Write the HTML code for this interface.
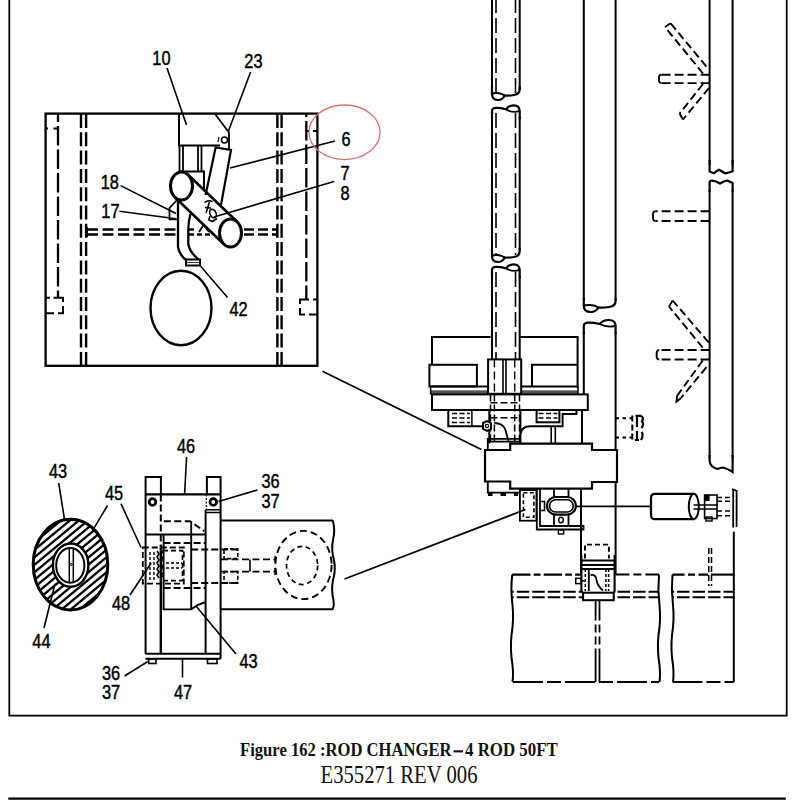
<!DOCTYPE html>
<html><head><meta charset="utf-8">
<style>
html,body{margin:0;padding:0;background:#fff;overflow:hidden;}
svg{display:block;}
.n{font-family:"Liberation Sans",sans-serif;fill:#000;stroke:#000;stroke-width:0.45px;}
.cap{font-family:"Liberation Serif",serif;fill:#111;stroke:none;}
</style></head><body>
<svg width="800" height="800" viewBox="0 0 800 800">
<g fill="none" stroke="#000" stroke-width="2" stroke-linecap="butt">
<path d="M9.3,0 V715.7 H786.7 V0" stroke-width="1.8"/>
<line x1="8.3" y1="798.7" x2="785.8" y2="798.7" stroke-width="2.2"/>
<rect x="45.6" y="113.6" width="271.8" height="252.2" stroke-width="2.3"/>
<line x1="58" y1="114" x2="58" y2="298" stroke-dasharray="19.5 4" stroke-dashoffset="11.6" stroke-width="2.3"/>
<path d="M46,128.6 H48 M53.5,128.6 H58"/>
<path d="M46,297.8 H50 M53.5,297.8 H63 V302 M63,306 V313.2 H58 M54,313.2 H46"/>
<line x1="81" y1="114" x2="81" y2="366" stroke-dasharray="14 4.3" stroke-width="2.4"/>
<line x1="86.1" y1="114" x2="86.1" y2="366" stroke-dasharray="14 4.3" stroke-width="2.4"/>
<line x1="277.4" y1="114" x2="277.4" y2="366" stroke-dasharray="14 4.3" stroke-width="2.4"/>
<line x1="281.6" y1="114" x2="281.6" y2="366" stroke-dasharray="14 4.3" stroke-width="2.4"/>
<line x1="306.3" y1="114" x2="306.3" y2="299.5" stroke-dasharray="19.5 4" stroke-dashoffset="16.5" stroke-width="2.3"/>
<path d="M306.6,131 H309 M313,131 H317"/>
<path d="M317,299.5 H313 M309,299.5 H300 V304 M300,308 V314.5 H305 M309,314.5 H317"/>
<path d="M87,229.4 H177 M87,234.4 H177" stroke-dasharray="11 4.5" stroke-width="2.5"/>
<path d="M244,229.6 H277 M244,234.6 H277" stroke-dasharray="10 4" stroke-width="2.5"/>
<path d="M189,229.6 H194 M189,234.6 H214" stroke-width="2.5" stroke-dasharray="5 3"/>
<line x1="277" y1="227" x2="277" y2="237"/>
<line x1="87" y1="227" x2="87" y2="237"/>
<path d="M179,114 V145.4 H220"/>
<path d="M215,114 L229,132.5 V150" stroke-width="1.8"/>
<circle cx="224.5" cy="140" r="3" stroke-width="1.5"/>
<path d="M219,137 L218,142" stroke-width="1.2"/>
<path d="M179.5,146 V172 M183,146 V171 M198,146 V171 M201.5,146 V171" stroke-width="1.8"/>
<path d="M179,171.5 H204 V191" stroke-width="2"/>
<path d="M205.6,195 L215.6,147.5 L231,150 L221,205" stroke-width="2.2"/>
<path d="M188.1,174.8 L237.1,221.8" stroke-width="2.6"/>
<path d="M174.9,197.2 L223.9,244.2" stroke-width="2.6"/>
<ellipse cx="181.5" cy="186" rx="11" ry="14" stroke-width="3" fill="#fff"/>
<ellipse cx="230.5" cy="233" rx="11" ry="14" stroke-width="3" fill="#fff"/>
<path d="M204.5,202.5 Q208,199.5 212.5,201.5 M209.5,202 L206,213 M205,207.5 L211,208" stroke-width="1.6"/>
<ellipse cx="213" cy="213.5" rx="3" ry="4.5" transform="rotate(-25 213 213.5)" stroke-width="1.6"/>
<path d="M208,219.5 L212.5,221.5 L217,218.5 M210,216 L209,219" stroke-width="1.6"/>
<path d="M199,232 L203.5,225 L209,232" stroke-width="1.7"/>
<path d="M178,201 V247 Q179.5,255 186,260" stroke-width="2.3"/>
<path d="M190.5,214 Q188,222 188.3,232 V244 Q189.5,252 198.5,259.5" stroke-width="2.3"/>
<rect x="186" y="259.5" width="14" height="6" stroke-width="2"/>
<line x1="187" y1="262.5" x2="199" y2="262.5" stroke-width="0.8"/>
<path d="M177,200 L169.5,208 V219.4 H178" stroke-width="1.8"/>
<ellipse cx="181" cy="308" rx="30.5" ry="37.2" stroke-width="2.4"/>
<g stroke-width="1.6">
<line x1="167" y1="68" x2="186.5" y2="125"/>
<line x1="250.6" y1="72" x2="228.5" y2="131"/>
<line x1="335" y1="141" x2="230" y2="168"/>
<line x1="334" y1="181.6" x2="214" y2="217"/>
<line x1="120.6" y1="185.6" x2="176" y2="213.5"/>
<line x1="119.4" y1="211.2" x2="176" y2="218.7"/>
<line x1="200" y1="265.5" x2="227.5" y2="297.5"/>
</g>
<ellipse cx="344.5" cy="132.3" rx="35.5" ry="27.3" stroke="#e07070" stroke-width="1.3"/>
<line x1="322.5" y1="371.3" x2="481.3" y2="449.5" stroke-width="1.8"/>
<path d="M492,-2 V90 M519.7,-2 V90" />
<path d="M492,86 V94 Q492,100 498.094,100 Q502.526,100 504.7,95.5 Q509.17400000000004,95.8 514.1600000000001,95 Q519.7,94 519.7,89 V86" stroke-width="2.2"/><path d="M492,94 Q493.385,92.7 497.54,93 Q501.97200000000004,93.4 504.7,95.5" stroke-width="1.87"/>
<path d="M492,119.3 V111.3 Q492,107.89999999999999 496.15500000000003,107.89999999999999 Q500.86400000000003,107.89999999999999 505.9,109.3 Q508.62,105.3 513.606,105.3 Q519.7,105.3 519.7,111.3 V119.3" stroke-width="2.2"/><path d="M505.9,109.3 Q509.728,111.89999999999999 515.268,111.89999999999999 Q518.7,111.89999999999999 519.7,110.3" stroke-width="1.87"/>
<path d="M492,117 V250 M519.7,117 V250" />
<path d="M492,248 V256 Q492,262 498.094,262 Q502.526,262 504.7,257.5 Q509.17400000000004,257.8 514.1600000000001,257 Q519.7,256 519.7,251 V248" stroke-width="2.2"/><path d="M492,256 Q493.385,254.7 497.54,255 Q501.97200000000004,255.4 504.7,257.5" stroke-width="1.87"/>
<path d="M492,278.3 V270.3 Q492,266.90000000000003 496.15500000000003,266.90000000000003 Q500.86400000000003,266.90000000000003 505.9,268.3 Q508.62,264.3 513.606,264.3 Q519.7,264.3 519.7,270.3 V278.3" stroke-width="2.2"/><path d="M505.9,268.3 Q509.728,270.90000000000003 515.268,270.90000000000003 Q518.7,270.90000000000003 519.7,269.3" stroke-width="1.87"/>
<path d="M492,276 V360 M519.7,276 V360" />
<path d="M496,-2 V93 M515.5,-2 V93 M496,113 V255 M515.5,113 V255 M496,272 V360 M515.5,272 V360" stroke-width="1.6" stroke-dasharray="15 5"/>
<path d="M583.8,-2 V300 M615.6,-2 V300" />
<path d="M583.8,298 V306 Q583.8,312 590.7959999999999,312 Q595.884,312 598.4,307.5 Q603.516,307.8 609.24,307 Q615.6,306 615.6,301 V298" stroke-width="2.2"/><path d="M583.8,306 Q585.39,304.7 590.16,305 Q595.2479999999999,305.4 598.4,307.5" stroke-width="1.87"/>
<path d="M583.8,334 V326 Q583.8,322.6 588.5699999999999,322.6 Q593.976,322.6 599.7,324 Q602.88,320 608.604,320 Q615.6,320 615.6,326 V334" stroke-width="2.2"/><path d="M599.7,324 Q604.152,326.6 610.5120000000001,326.6 Q614.6,326.6 615.6,325" stroke-width="1.87"/>
<path d="M583.8,332 V394 M615.6,332 V574" />
<path d="M709.6,-2 V165 M732.6,-2 V165" />
<path d="M709.6,160 V171.5 L714,173.2 Q716.5,171 719,169.8 Q722,171.5 725,173.3 Q729,172.5 732.6,171.2 V160" stroke-width="2.2"/>
<path d="M709.6,192 V182 Q710,180.5 712,180.5 Q716,181 720,183.5 Q724,181 727,180.5 L732.6,183 V192" stroke-width="2.2"/>
<path d="M709.6,190 V458 M732.6,190 V458" />
<path d="M709.6,455 V461 Q710,467 717.5,469 Q720,468 722.5,467.5 Q726,468 732.6,472 V455" stroke-width="2.2"/>
<path d="M709.6,74.8 H661.5 M709.6,83.1 H661.5" stroke-dasharray="9 4" stroke-width="1.9"/><path d="M661.5,74.8 Q658.5,74.8 659.0,78.94999999999999 Q658.5,83.1 661.5,83.1" stroke-width="1.9"/>
<path d="M709.6,211.3 H655.5 M709.6,221 H655.5" stroke-dasharray="9 4" stroke-width="1.9"/><path d="M655.5,211.3 Q652.5,211.3 653.0,216.15 Q652.5,221 655.5,221" stroke-width="1.9"/>
<path d="M709.6,350 H659.2 M709.6,359.5 H659.2" stroke-dasharray="9 4" stroke-width="1.9"/><path d="M659.2,350 Q656.2,350 656.7,354.75 Q656.2,359.5 659.2,359.5" stroke-width="1.9"/>
<line x1="706.4" y1="66.6" x2="670.6" y2="23.3" stroke-dasharray="8 4" stroke-width="1.9"/>
<line x1="703" y1="73.5" x2="665" y2="27" stroke-dasharray="8 4" stroke-width="1.9"/>
<path d="M665,27 L670.6,23.3" stroke-width="1.9"/>
<line x1="703" y1="84" x2="679.6" y2="113.5" stroke-dasharray="8 4" stroke-width="1.9"/>
<line x1="709" y1="88" x2="683" y2="119.5" stroke-dasharray="8 4" stroke-width="1.9"/>
<path d="M679.6,113.5 L683,119.5" stroke-width="1.9"/>
<line x1="708.7" y1="342.5" x2="672.7" y2="300.5" stroke-dasharray="8 4" stroke-width="1.9"/>
<line x1="702.7" y1="347.7" x2="669" y2="306.5" stroke-dasharray="8 4" stroke-width="1.9"/>
<path d="M669,306.5 L672.7,300.5" stroke-width="1.9"/>
<line x1="702.7" y1="360.5" x2="677" y2="396" stroke-dasharray="8 4" stroke-width="1.9"/>
<line x1="706.5" y1="367.2" x2="681" y2="398" stroke-dasharray="8 4" stroke-width="1.9"/>
<path d="M677,396 L676.5,401.7 L681,398" stroke-width="1.9"/>

<path d="M432,364.8 V337.1 H490.6 M520,337.1 H577.6 V388"/>
<rect x="429.4" y="364.8" width="47.5" height="21.6"/>
<path d="M532,386.4 V364.8 H577.6"/>
<path d="M430.6,386.4 H488 M521,386.4 H578"/>
<rect x="431" y="390.3" width="57" height="3.6" fill="#555" stroke="none"/>
<rect x="521" y="390.3" width="57" height="3.6" fill="#555" stroke="none"/>
<path d="M430.6,386.4 V394.4 M578,386.4 V394.4" stroke-width="1.5"/>
<rect x="488.1" y="359.4" width="33.1" height="34.4" fill="#fff"/>
<path d="M503,359.4 V393.8 M506,359.4 V393.8" stroke-width="1.6"/>
<path d="M494.4,359.4 V393.8 M514.7,359.4 V393.8" stroke-width="1.4" stroke-dasharray="8 4"/>
<rect x="432" y="394.4" width="155.8" height="15.6"/>
<path d="M490.5,394.4 V443 M519.5,394.4 V443 M494.4,394.4 V443 M514.7,394.4 V443" stroke-width="1.5" stroke-dasharray="7 3"/>
<path d="M490.5,402.8 H519.5 M490.5,417.7 H519.5" stroke-width="1.6" stroke-dasharray="7 3"/>
<path d="M448.3,410 V426.3 H484" />
<rect x="451" y="411" width="20" height="14" stroke="none"/>
<path d="M452,413.5 H470 M452,418 H470 M452,422.5 H470" stroke-width="1.5" stroke-dasharray="5 2.5"/>
<path d="M471.9,410 V426.3" stroke-width="1.5"/>
<path d="M489.3,410 V443.4" />
<path d="M494.4,423 Q503,423 505.5,430 Q507,436 508.5,441" stroke-width="1.8"/>
<path d="M520.4,410 V443.4 M520.4,434 Q522,426.3 530,426.3 H562.6 V414 H576.4 V410" />
<rect x="536.6" y="410" width="22.8" height="12.3" />
<path d="M538.5,413.5 H557.5 M538.5,418 H557.5" stroke-width="1.4" stroke-dasharray="5 2.5"/>
<path d="M551.2,426.3 V443.4 M555.3,426.3 V443.4" stroke-width="1.6"/>
<path d="M582,410 V443.4" />
<path d="M483,423 L487,421 L491,423 L491,429 L487,431 L483,429 Z" stroke-width="2" fill="#fff"/>
<circle cx="487" cy="426" r="1.6" stroke-width="1.2"/>
<path d="M485,450 H510.2 V443.6 H592 V450 H617 V482 H592 V488.6 H510.2 V481.5 H485 Z" stroke-width="2.2" fill="#fff"/>
<path d="M487.8,450 V438.8 H520 V443.6 M487.8,441.6 H520" stroke-width="1.8"/>
<path d="M487.8,481.5 V492.6 H519" stroke-width="1.9"/>
<path d="M488,494.3 H492.5 M500.5,494.3 H506 M514,494.3 H518" stroke-width="3.2"/>
<rect x="519.9" y="490.1" width="16.6" height="30.6" stroke-width="1.8"/>
<rect x="523.4" y="492.8" width="10.5" height="24.5" stroke-width="1.6" stroke-dasharray="4 2.5"/>
<path d="M536.8,488.6 V529.5 H583.5 V526 H540 V488.6" stroke-width="1.8"/>
<path d="M540,501.5 H544.5 V510.5 H540" stroke-width="1.6"/>
<rect x="547" y="497" width="28.9" height="17.6" rx="8.8" stroke-width="2.2"/>
<rect x="549.6" y="499.8" width="23.6" height="12.2" rx="6" stroke-width="1.6"/>
<path d="M554,488.6 V497 M568.5,488.6 V497 M554,514.6 V526 M568.5,514.6 V526" stroke-width="1.8"/>
<ellipse cx="561" cy="520" rx="2.3" ry="2.8" stroke-width="1.4"/>
<rect x="558.4" y="530" width="5.2" height="4" stroke-width="1.4"/>
<path d="M581,488.6 V573.6" />
<line x1="576" y1="506.4" x2="651" y2="506.4" stroke-width="1.8"/>
<path d="M694,493.8 H655 Q651,493.8 651,498 V515 Q651,519.2 655,519.2 H694" stroke-width="2.2"/>
<ellipse cx="693.8" cy="506.5" rx="5" ry="12.7" stroke-width="2"/>
<path d="M693.6,505 H717.7 M693.6,508.9 H717.7" stroke-width="1.5"/>
<rect x="704.6" y="495" width="12.4" height="23.5" stroke-width="1.6"/>
<rect x="704.6" y="495" width="5" height="6" fill="#000" stroke="none"/>
<rect x="706" y="517" width="6" height="4" stroke-width="1.4"/>
<path d="M717,497.6 H733 M717,501.3 H733 M717,511 H733 M717,515.8 H733" stroke-width="1.5" stroke-dasharray="5 3"/>
<path d="M733.2,489 V527.5 M736.6,490 V527" stroke-width="1.8"/>
<path d="M732,489 L737,491" stroke-width="1.4"/>
<path d="M733.8,531.6 V682" stroke-width="2"/>
<path d="M708.8,548 V586 M711.5,548 V586" stroke-width="1.5" stroke-dasharray="6 3"/>
<path d="M615.5,418.3 H632 M615.5,437.5 H632" stroke-width="1.9" stroke-dasharray="3.5 3.5"/>
<path d="M632.3,415.5 V440 H639" stroke-width="2" stroke-dasharray="6 3"/>
<path d="M635.5,415.8 H641.5 M637,416 V427 M637,431 V440" stroke-width="2.2"/>
<path d="M641.5,416 Q644,418 642,421.5 Q644.5,424 641.5,428 M641.5,432 Q644,435 641,440" stroke-width="2.2"/>


<path d="M585,558.6 V544.6 H608.9 V558.6" stroke-width="1.9" stroke-dasharray="5 3"/>
<path d="M581.4,560.4 H614.6 M581.4,565 H614.6 M581.4,569.1 H614.6" stroke-width="2"/>
<path d="M581.4,555 V592.5 M614.6,555 V592.5" stroke-width="2.1"/>
<path d="M588.8,569 V591" stroke-width="1.9"/>
<path d="M585.3,569 V591 M605.9,569 V591 M608.6,569 V591" stroke-width="1.5" stroke-dasharray="3 2"/>
<path d="M590.6,575 Q596,574 596.5,580 Q597.5,586 603,590.6" stroke-width="1.8"/>
<rect x="575.7" y="578.3" width="5.5" height="5.3" stroke-width="1.5"/>
<path d="M581.4,580.9 H585" stroke-width="1.5"/>
<rect x="583.1" y="592.7" width="30.6" height="7.5" stroke-width="2"/>


<path d="M512.2,574.6 H581.3" stroke-dasharray="18.3 3.2 6.8 3.2" stroke-width="2.1"/>
<path d="M615.4,574.6 H659" stroke-dasharray="14 4 8 4" stroke-width="2"/>
<path d="M672.5,574.6 H708" stroke-dasharray="12 3.5 7 3.5" stroke-width="2.1"/><path d="M711,574.6 H733.8" stroke-width="2.1"/>
<path d="M512.2,591.8 H583 M613,591.8 H659 M672.5,591.8 H733.8" stroke-dasharray="12.5 3" stroke-dashoffset="10.95" stroke-width="2"/>
<path d="M512.2,597.3 H583 M613,597.3 H659 M672.5,597.3 H733.8" stroke-dasharray="12.5 3" stroke-dashoffset="10.95" stroke-width="2"/>
<path d="M513,682 H659 M672.5,682 H733.8" stroke-dasharray="30 4 14 4" stroke-width="2"/>
<path d="M512.2,574.6 Q510.5,590 512.5,605 Q514,620 511.5,635 Q510,650 512.5,665 Q513.5,675 512.5,682" stroke-width="2"/>
<path d="M659,574.6 Q657.5,590 659.5,605 Q661,620 658.5,635 Q657,650 659.5,665 Q660.5,675 659.5,682" stroke-width="2"/>
<path d="M672.5,574.6 Q671,590 673,605 Q674.5,620 672,635 Q670.5,650 673,665 Q674,675 673,682" stroke-width="2"/>
<path d="M595.6,600.6 V682 M599.5,600.6 V682" stroke-width="1.8" stroke-dasharray="20 4 8 4 8 4 40"/>


<defs>
<clipPath id="ringclip"><path clip-rule="evenodd" d="M33.2,564.6 a37.3,45.3 0 1,0 74.6,0 a37.3,45.3 0 1,0 -74.6,0 Z M52.9,565.1 a17.75,21.65 0 1,0 35.5,0 a17.75,21.65 0 1,0 -35.5,0 Z"/></clipPath>
</defs>
<g clip-path="url(#ringclip)" stroke-width="2.3">
<line x1="-95.0" y1="620" x2="37.5" y2="510"/>
<line x1="-86.0" y1="620" x2="46.5" y2="510"/>
<line x1="-77.0" y1="620" x2="55.5" y2="510"/>
<line x1="-68.0" y1="620" x2="64.5" y2="510"/>
<line x1="-59.0" y1="620" x2="73.5" y2="510"/>
<line x1="-50.0" y1="620" x2="82.5" y2="510"/>
<line x1="-41.0" y1="620" x2="91.5" y2="510"/>
<line x1="-32.0" y1="620" x2="100.5" y2="510"/>
<line x1="-23.0" y1="620" x2="109.5" y2="510"/>
<line x1="-14.0" y1="620" x2="118.5" y2="510"/>
<line x1="-5.0" y1="620" x2="127.5" y2="510"/>
<line x1="4.0" y1="620" x2="136.5" y2="510"/>
<line x1="13.0" y1="620" x2="145.5" y2="510"/>
<line x1="22.0" y1="620" x2="154.5" y2="510"/>
<line x1="31.0" y1="620" x2="163.5" y2="510"/>
<line x1="40.0" y1="620" x2="172.5" y2="510"/>
<line x1="49.0" y1="620" x2="181.5" y2="510"/>
<line x1="58.0" y1="620" x2="190.5" y2="510"/>
<line x1="67.0" y1="620" x2="199.5" y2="510"/>
<line x1="76.0" y1="620" x2="208.5" y2="510"/>
<line x1="85.0" y1="620" x2="217.5" y2="510"/>
<line x1="94.0" y1="620" x2="226.5" y2="510"/>
<line x1="103.0" y1="620" x2="235.5" y2="510"/>
<line x1="112.0" y1="620" x2="244.5" y2="510"/>
<line x1="121.0" y1="620" x2="253.5" y2="510"/>
<line x1="130.0" y1="620" x2="262.5" y2="510"/>
</g>
<ellipse cx="70.5" cy="564.6" rx="37.3" ry="45.3" stroke-width="3"/>
<ellipse cx="70.65" cy="565.1" rx="17.75" ry="21.65" stroke-width="2.4"/>
<ellipse cx="70.3" cy="565.4" rx="14.1" ry="17.4" stroke-width="2"/>
<path d="M69.3,548.5 V582.5 M73.3,548.5 V582.5" stroke-width="1.5"/>
<circle cx="71.3" cy="564.5" r="1" stroke-width="1"/>


<path d="M145.6,653.8 V476.9 H160.9 V494.4 M206.9,494.4 V476.9 H220.6 V658.8"/>
<path d="M145.6,494.4 H220.6" stroke-width="2.2"/>
<circle cx="152.5" cy="502" r="3.3" stroke-width="2.8"/>
<circle cx="213.3" cy="502" r="3.3" stroke-width="2.8"/>
<path d="M206.3,494.4 V510" stroke-width="1.2" stroke-dasharray="2 1.5"/>
<path d="M205.6,509.8 H220.6 M205.6,512.5 H220.6" stroke-width="1.6"/>
<path d="M205.6,509.8 V653.8"/>
<path d="M145.6,534.4 H205.6"/>
<path d="M160.8,494.4 V545" stroke-dasharray="7 3"/>
<path d="M160.8,545 V653.8" stroke-width="2.4"/>
<path d="M163.6,534.4 V609.4 H191.2 L197.5,605 L205.6,602 M191.2,521 V609.4" stroke-width="1.9"/>
<path d="M163.8,521.2 H190 L204.4,531.2" stroke-dasharray="7 3.5"/>
<path d="M163.6,543 H205.6 M163.6,588 H205.6" stroke-dasharray="7 3"/>
<path d="M191.2,549.4 H238 M191.2,583 H238" stroke-dasharray="7 3"/>
<rect x="142.8" y="547.5" width="41" height="36.2" stroke-width="1.8" stroke-dasharray="6 3"/>
<rect x="163" y="550.6" width="19.5" height="30" stroke-width="1.7" stroke-dasharray="5 3"/>
<path d="M166,563 H182 M166,568 H182" stroke-width="1.5" stroke-dasharray="3 2"/>
<path d="M150,552 V580 M154,552 V580" stroke-width="1.4" stroke-dasharray="3 2"/>
<path d="M157,551 L159,554 L157,557 L159,560 L157,563 L159,566 L157,569 L159,572 L157,575 L159,578" stroke-width="1.6"/>
<path d="M145.5,653.8 H220.6 M145.5,658.8 H220.6" stroke-width="2"/>
<rect x="148.8" y="659" width="7.2" height="4.5" stroke-width="1.6"/>
<rect x="207.5" y="659" width="9.5" height="4.5" stroke-width="1.6"/>
<path d="M220.6,520.4 H332.8 M220.6,609.3 H332.8" stroke-width="2"/>
<path d="M332.8,520.4 Q335.5,530 333,540 Q331,550 334,560 Q336,570 333,580 Q331,590 333.5,600 Q334.5,605 332.8,609.3" stroke-width="2"/>
<ellipse cx="303.5" cy="565" rx="28.1" ry="34.1" stroke-width="1.9" stroke-dasharray="7 4"/>
<ellipse cx="302.1" cy="565.5" rx="15.6" ry="19.1" stroke-width="1.7" stroke-dasharray="5 3.5"/>
<path d="M221,559.4 H275 M221,571.6 H275" stroke-dasharray="7 3.5" stroke-width="1.9"/>
<path d="M275.1,556 V563 M275.1,568 V575 M250,559.4 V571.6" stroke-width="1.6"/>

<rect x="224" y="548.9" width="13.8" height="9.7" stroke-width="1.6" stroke-dasharray="4 2"/>
<rect x="224" y="571.6" width="13.8" height="11.4" stroke-width="1.6" stroke-dasharray="4 2"/>
<line x1="344.5" y1="579" x2="525.5" y2="509.5" stroke-width="1.8"/>

<g stroke-width="1.6">
<line x1="58.7" y1="483" x2="64.5" y2="519.5"/>
<line x1="107.5" y1="505.5" x2="93.7" y2="528.7"/>
<line x1="121" y1="503.7" x2="141" y2="547.5"/>
<line x1="186.6" y1="457" x2="184.6" y2="494"/>
<line x1="130" y1="595" x2="151.2" y2="563"/>
<line x1="44" y1="628" x2="55" y2="583.7"/>
<line x1="257.5" y1="490" x2="218.5" y2="501.4"/>
<line x1="124.5" y1="676" x2="148.7" y2="661"/>
<line x1="182.5" y1="659.5" x2="182.5" y2="677.5"/>
<line x1="236" y1="654" x2="196" y2="606"/>
</g>
</g>
<g class="n">
<text x="0" y="0" transform="translate(152.3 65.4) scale(0.835 1)" font-size="19.6">10</text>
<text x="0" y="0" transform="translate(244.3 67.6) scale(0.835 1)" font-size="19.6">23</text>
<text x="0" y="0" transform="translate(341.5 145.6) scale(0.835 1)" font-size="19.6">6</text>
<text x="0" y="0" transform="translate(340.5 180) scale(0.835 1)" font-size="19.6">7</text>
<text x="0" y="0" transform="translate(340.5 200) scale(0.835 1)" font-size="19.6">8</text>
<text x="0" y="0" transform="translate(100.7 188.5) scale(0.835 1)" font-size="19.6">18</text>
<text x="0" y="0" transform="translate(101.3 217.5) scale(0.835 1)" font-size="19.6">17</text>
<text x="0" y="0" transform="translate(229.5 316) scale(0.835 1)" font-size="19.6">42</text>
<text x="0" y="0" transform="translate(49 478.2) scale(0.835 1)" font-size="19.6">43</text>
<text x="0" y="0" transform="translate(105 499.5) scale(0.835 1)" font-size="19.6">45</text>
<text x="0" y="0" transform="translate(177 452.5) scale(0.835 1)" font-size="19.6">46</text>
<text x="0" y="0" transform="translate(112 610) scale(0.835 1)" font-size="19.6">48</text>
<text x="0" y="0" transform="translate(32.3 648.2) scale(0.835 1)" font-size="19.6">44</text>
<text x="0" y="0" transform="translate(261.5 487.8) scale(0.835 1)" font-size="19.6">36</text>
<text x="0" y="0" transform="translate(261.5 508) scale(0.835 1)" font-size="19.6">37</text>
<text x="0" y="0" transform="translate(102 679.5) scale(0.835 1)" font-size="19.6">36</text>
<text x="0" y="0" transform="translate(102 699) scale(0.835 1)" font-size="19.6">37</text>
<text x="0" y="0" transform="translate(174 699) scale(0.835 1)" font-size="19.6">47</text>
<text x="0" y="0" transform="translate(239.5 667.5) scale(0.835 1)" font-size="19.6">43</text>
</g>
<text class="cap" x="240" y="756.4" font-weight="bold" font-size="18.9" textLength="211.5" lengthAdjust="spacingAndGlyphs">Figure 162 :ROD CHANGER</text>
<rect x="453.5" y="750.3" width="9.5" height="2.1" fill="#111"/>
<text class="cap" x="465" y="756.4" font-weight="bold" font-size="18.9" textLength="92.8" lengthAdjust="spacingAndGlyphs">4 ROD 50FT</text>
<text class="cap" x="320.5" y="783.4" font-size="25.8" textLength="157" lengthAdjust="spacingAndGlyphs">E355271 REV 006</text>
</svg>
</body></html>
